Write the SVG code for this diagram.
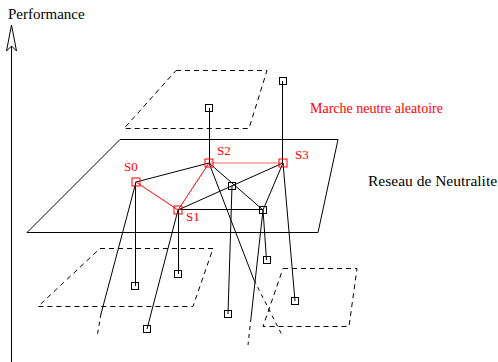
<svg xmlns="http://www.w3.org/2000/svg" width="498" height="362" viewBox="0 0 498 362">
<style>
.pl{fill:none;stroke:#000;stroke-width:1}
.dp{fill:none;stroke:#000;stroke-width:1;stroke-dasharray:5 4}
.e{fill:none;stroke:#000;stroke-width:1}
.ed{fill:none;stroke:#000;stroke-width:1;stroke-dasharray:4 4}
.r{fill:none;stroke:#f00;stroke-width:1}
.nb{fill:none;stroke:#000;stroke-width:1}
.nr{fill:none;stroke:#f00;stroke-width:1}
.t{font-family:"Liberation Serif","Times New Roman",serif;fill:#000}
.tr{font-family:"Liberation Serif","Times New Roman",serif;fill:#f00}
</style>
<rect width="498" height="362" fill="#fff"/>
<g id="axis">
<line x1="11.5" y1="46" x2="11.5" y2="362" class="e"/>
<polygon points="11.5,25 6.5,51 11.5,46 16.5,51" fill="#fff" stroke="#000" stroke-width="1"/>
<text class="t" x="8" y="19" font-size="15">Performance</text>
</g>
<g id="planes">
<polygon class="pl" points="120,139.5 338,139.5 318,232.5 27,232.5"/>
<polygon class="dp" points="176,70.5 267,70.5 249,128.5 124,128.5"/>
<polygon class="dp" points="100,248.5 213,248.5 193,306.5 38,306.5"/>
<polygon class="dp" points="283,268.5 357,268.5 349,326.5 263,326.5"/>
</g>
<g id="connectors">
<line class="e" x1="209.5" y1="108" x2="209.5" y2="163"/>
<line class="e" x1="282.5" y1="81" x2="282.5" y2="163"/>
<line class="e" x1="136" y1="182" x2="209" y2="163"/>
<line class="e" x1="178" y1="209.5" x2="263" y2="209.5"/>
<line class="e" x1="178" y1="210" x2="283" y2="163"/>
<line class="e" x1="209" y1="163" x2="263" y2="210"/>
<line class="e" x1="263" y1="210" x2="283" y2="163"/>
<line class="e" x1="135.5" y1="182" x2="135.5" y2="286"/>
<polyline class="e" points="136,182 101,314"/>
<line class="ed" x1="101" y1="314" x2="97" y2="337"/>
<line class="e" x1="178.5" y1="210" x2="178.5" y2="274"/>
<line class="e" x1="178" y1="210" x2="147" y2="329"/>
<line class="e" x1="232" y1="186" x2="228" y2="314"/>
<line class="e" x1="263" y1="210" x2="266.5" y2="260"/>
<line class="e" x1="263" y1="210" x2="251" y2="318"/>
<line class="ed" x1="251" y1="318" x2="248" y2="345"/>
<line class="e" x1="209" y1="163" x2="254" y2="280"/>
<line class="ed" x1="254" y1="280" x2="283" y2="337"/>
<line class="e" x1="283" y1="163" x2="295" y2="301"/>
<line class="r" x1="136" y1="182" x2="178" y2="210" stroke-width="2"/>
<line class="r" x1="178" y1="210" x2="209" y2="163"/>
<line class="r" x1="209" y1="163" x2="283" y2="163" stroke-width="1.6" stroke-opacity="0.6"/>
</g>
<g id="node-top1"><rect class="nb" x="205.5" y="104.5" width="7" height="7"/></g>
<g id="node-top2"><rect class="nb" x="279.5" y="77.5" width="7" height="7"/></g>
<g id="node-S0"><rect class="nr" x="132" y="178" width="8" height="8"/><text class="tr" x="124" y="171" font-size="13">S0</text></g>
<g id="node-S1"><rect class="nr" x="174" y="206" width="8" height="8"/><text class="tr" x="186" y="221" font-size="13">S1</text></g>
<g id="node-S2"><rect class="nr" x="205" y="159" width="8" height="8"/><text class="tr" x="217" y="155" font-size="13">S2</text></g>
<g id="node-S3"><rect class="nr" x="279" y="159" width="8" height="8"/><text class="tr" x="295" y="159" font-size="13">S3</text></g>
<g id="node-A"><rect class="nb" x="228.5" y="182.5" width="7" height="7"/></g>
<g id="node-B"><rect class="nb" x="259.5" y="206.5" width="7" height="7"/></g>
<g id="node-b1"><rect class="nb" x="131.5" y="282.5" width="7" height="7"/></g>
<g id="node-b2"><rect class="nb" x="174.5" y="270.5" width="7" height="7"/></g>
<g id="node-b3"><rect class="nb" x="143.5" y="325.5" width="7" height="7"/></g>
<g id="node-b4"><rect class="nb" x="224.5" y="310.5" width="7" height="7"/></g>
<g id="node-b5"><rect class="nb" x="263.5" y="256.5" width="7" height="7"/></g>
<g id="node-b6"><rect class="nb" x="291.5" y="297.5" width="7" height="7"/></g>
<g id="labels">
<text class="tr" x="310" y="113" font-size="14">Marche neutre aleatoire</text>
<text class="t" x="368" y="186" font-size="15.5">Reseau de Neutralite</text>
</g>
</svg>
